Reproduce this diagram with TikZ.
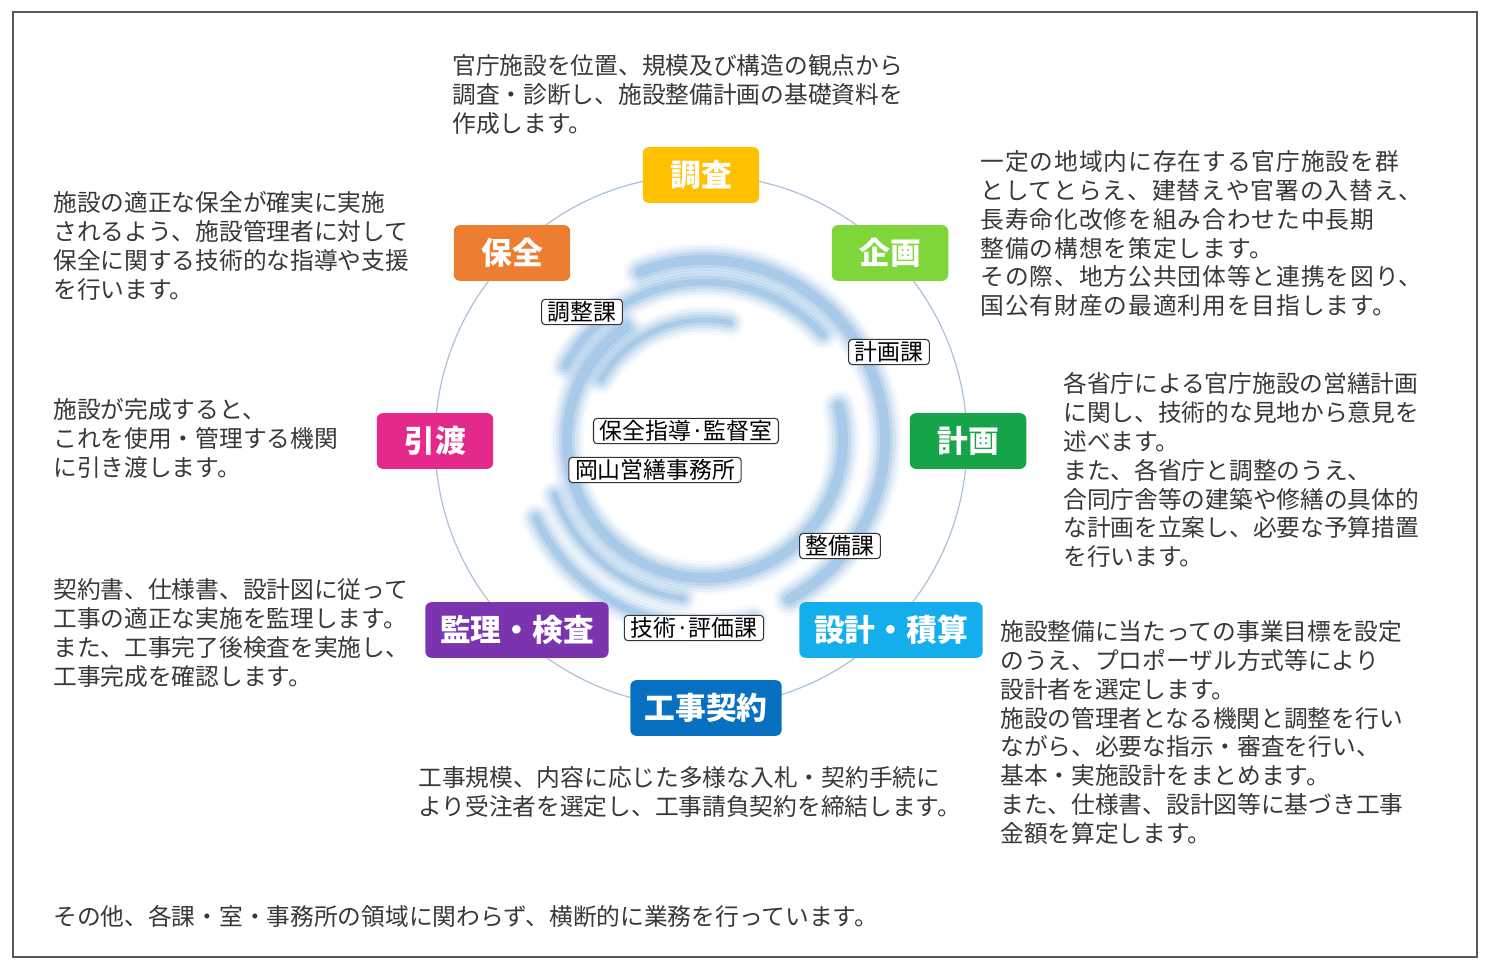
\documentclass[tikz,border=0pt]{standalone}
\usepackage{fontspec}
\setmainfont{Noto Sans CJK JP}
\usepackage{xcolor}

\definecolor{cChosa}{RGB}{255,192,0}
\definecolor{cKikaku}{RGB}{126,214,58}
\definecolor{cKeikaku}{RGB}{22,164,72}
\definecolor{cSekkei}{RGB}{20,174,236}
\definecolor{cKeiyaku}{RGB}{8,112,192}
\definecolor{cKanri}{RGB}{122,52,176}
\definecolor{cHiki}{RGB}{228,40,140}
\definecolor{cHozen}{RGB}{237,125,49}
\definecolor{ringc}{RGB}{172,194,216}
\definecolor{swirlc}{RGB}{100,160,215}

\begin{document}
\begin{tikzpicture}[x=0.02cm, y=-0.02cm,
    phase/.style={rounded corners=3.5pt, text=white, inner sep=0pt,
                  minimum width=66.3pt, minimum height=31.7pt,
                  font=\fontsize{17.5}{20}\selectfont\bfseries},
    tag/.style={draw=black!80, rounded corners=2pt, fill=white, line width=0.6pt,
                inner xsep=3.5pt, inner ysep=1.2pt, font=\fontsize{13}{15}\selectfont},
    txt/.style={anchor=north west, align=left, inner sep=0pt, text=black!78,
                font=\fontsize{13.5}{16.45}\selectfont},
    ring/.style={draw=ringc, line width=0.7pt},
    frm/.style={draw=black!65, line width=1.1pt}
  ]
  \useasboundingbox (0,0) rectangle (1492,976);
  \draw[frm] (13,12) rectangle (1477,957);

  \foreach \s/\e/\r/\w in {-111/62/180/16, -152/-42/158/13, -150/-78/120/11,
                           -125/-374/138/16, -205/-285/186/13, -200/-262/160/11}{
    \foreach \d/\o in {18/0.06, 12/0.1, 6/0.14, 0/0.2, -6/0.24}{
      \draw[swirlc, opacity=\o, line cap=round, line width={(\w+\d)*0.567pt}]
        (705,440) ++(\s:\r) arc[start angle=\s, end angle=\e, radius=\r];
    }
  }

  \draw[ring] (701,441) circle[radius=266];

  \node[phase, fill=cChosa] (chosa) at (701,175) {調査};
  \node[phase, fill=cKikaku] (kikaku) at (890,253) {企画};
  \node[phase, fill=cKeikaku] (keikaku) at (968,441) {計画};
  \node[phase, fill=cSekkei, minimum width=104.3pt] (sekkei) at (891,630) {設計・積算};
  \node[phase, fill=cKeiyaku, minimum width=86.2pt] (keiyaku) at (706,708) {工事契約};
  \node[phase, fill=cKanri, minimum width=104.3pt] (kanri) at (517,630) {監理・検査};
  \node[phase, fill=cHiki] (hiki) at (435,441) {引渡};
  \node[phase, fill=cHozen] (hozen) at (512,253) {保全};

  \node[tag] (choseika) at (582,312) {調整課};
  \node[tag] (keikakuka) at (889,352) {計画課};
  \node[tag] (shidoshitsu) at (686,431) {保全指導·監督室};
  \node[tag] (jimusho) at (655,470) {岡山営繕事務所};
  \node[tag] (seibika) at (840,546) {整備課};
  \node[tag] (gijutsuka) at (694,628) {技術·評価課};

  \node[txt] (dChosa) at (452,54)
    {官庁施設を位置、規模及び構造の観点から\\調査・診断し、施設整備計画の基礎資料を\\作成します。};
  \node[txt] (dHozen) at (53,191)
    {施設の適正な保全が確実に実施\\されるよう、施設管理者に対して\\保全に関する技術的な指導や支援\\を行います。};
  \node[txt] (dHiki) at (53,398)
    {施設が完成すると、\\これを使用・管理する機関\\に引き渡します。};
  \node[txt] (dKanri) at (53,578)
    {契約書、仕様書、設計図に従って\\工事の適正な実施を監理します。\\また、工事完了後検査を実施し、\\工事完成を確認します。};
  \node[txt, font=\fontsize{13.5}{16.45}\selectfont\addfontfeatures{LetterSpace=4}] (dKikaku) at (980,150)
    {一定の地域内に存在する官庁施設を群\\としてとらえ、建替えや官署の入替え、\\長寿命化改修を組み合わせた中長期\\整備の構想を策定します。\\その際、地方公共団体等と連携を図り、\\国公有財産の最適利用を目指します。};
  \node[txt] (dKeikaku) at (1063,372)
    {各省庁による官庁施設の営繕計画\\に関し、技術的な見地から意見を\\述べます。\\また、各省庁と調整のうえ、\\合同庁舎等の建築や修繕の具体的\\な計画を立案し、必要な予算措置\\を行います。};
  \node[txt] (dSekkei) at (1000,620)
    {施設整備に当たっての事業目標を設定\\のうえ、プロポーザル方式等により\\設計者を選定します。\\施設の管理者となる機関と調整を行い\\ながら、必要な指示・審査を行い、\\基本・実施設計をまとめます。\\また、仕様書、設計図等に基づき工事\\金額を算定します。};
  \node[txt] (dKeiyaku) at (418,766)
    {工事規模、内容に応じた多様な入札・契約手続に\\より受注者を選定し、工事請負契約を締結します。};
  \node[txt] (dOther) at (53,905)
    {その他、各課・室・事務所の領域に関わらず、横断的に業務を行っています。};
\end{tikzpicture}
\end{document}
